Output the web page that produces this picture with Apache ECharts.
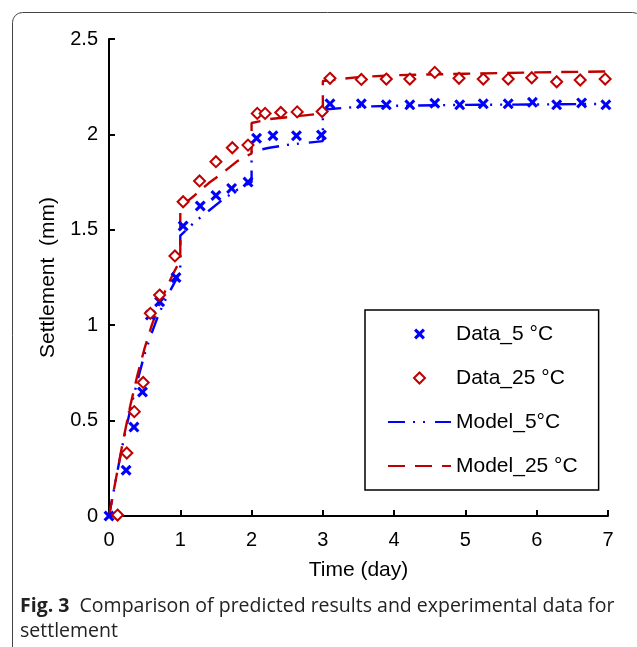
<!DOCTYPE html>
<html>
<head>
<meta charset="utf-8">
<script src="https://cdn.jsdelivr.net/npm/echarts@6/dist/echarts.min.js"></script>
<style>
html,body{margin:0;padding:0;background:#fff;}
#chart{width:637px;height:647px;}
</style>
</head>
<body>
<div id="chart"></div>
<script>
// ---- data ----
const data5Time = [0, 0.24, 0.35, 0.47, 0.58, 0.71, 0.94, 1.04, 1.28, 1.50, 1.72, 1.95, 2.07, 2.30, 2.63, 2.98, 3.10, 3.54, 3.89, 4.22, 4.57, 4.92, 5.25, 5.60, 5.94, 6.28, 6.63, 6.97];
const data5Settle = [0, 0.24, 0.466, 0.65, 1.053, 1.123, 1.25, 1.52, 1.625, 1.68, 1.717, 1.75, 1.98, 1.993, 1.993, 1.997, 2.16, 2.16, 2.155, 2.155, 2.163, 2.155, 2.16, 2.16, 2.168, 2.155, 2.165, 2.155];

const data25Time = [0.12, 0.25, 0.355, 0.48, 0.58, 0.71, 0.925, 1.04, 1.27, 1.50, 1.73, 1.95, 2.08, 2.19, 2.41, 2.64, 2.99, 3.10, 3.54, 3.89, 4.22, 4.57, 4.91, 5.25, 5.60, 5.93, 6.28, 6.61, 6.96];
const data25Settle = [0.005, 0.33, 0.547, 0.70, 1.062, 1.158, 1.363, 1.647, 1.756, 1.857, 1.93, 1.944, 2.11, 2.11, 2.115, 2.118, 2.12, 2.294, 2.288, 2.29, 2.29, 2.325, 2.294, 2.29, 2.29, 2.297, 2.276, 2.285, 2.29];

const model5Time = [0, 0.1, 0.2, 0.3, 0.4, 0.5, 0.6, 0.7, 0.8, 0.9, 1.0, 1.0, 1.2, 1.4, 1.6, 1.8, 2.0, 2.0, 2.25, 2.5, 2.75, 3.0, 3.0, 3.5, 4, 5, 6, 7];
const model5Settle = [0, 0.2, 0.39, 0.56, 0.71, 0.85, 0.96, 1.06, 1.14, 1.21, 1.28, 1.47, 1.54, 1.60, 1.66, 1.71, 1.75, 1.91, 1.93, 1.945, 1.955, 1.965, 2.13, 2.145, 2.15, 2.155, 2.157, 2.16];

const model25Time = [0, 0.1, 0.2, 0.3, 0.4, 0.5, 0.6, 0.7, 0.8, 0.9, 1.0, 1.0, 1.2, 1.4, 1.6, 1.8, 2.0, 2.0, 2.25, 2.5, 2.75, 3.0, 3.0, 3.5, 4, 5, 6, 7];
const model25Settle = [0, 0.2, 0.4, 0.58, 0.74, 0.88, 1.0, 1.1, 1.19, 1.27, 1.34, 1.62, 1.68, 1.745, 1.80, 1.86, 1.90, 2.06, 2.08, 2.09, 2.10, 2.11, 2.28, 2.30, 2.31, 2.318, 2.325, 2.33];

const seriesNames = ['Data_5 °C', 'Data_25 °C', 'Model_5°C', 'Model_25 °C'];
const xTitle = 'Time (day)';
const yTitle = 'Settlement  (mm)';
const captionBold = 'Fig. 3';
const captionLine1 = 'Comparison of predicted results and experimental data for';
const captionLine2 = 'settlement';

const pairs = (xs, ys) => xs.map((x, i) => [x, ys[i]]);

const FONT = 'Liberation Sans, Arial, sans-serif';
const BLUE = '#0000ff';
const RED = '#c00000';
const xSym = 'path://M0,2L2,0L5,3L8,0L10,2L7,5L10,8L8,10L5,7L2,10L0,8L3,5Z';
const diamondSym = 'path://M5,0L10,5L5,10L0,5Z';

const chart = echarts.init(document.getElementById('chart'), null, {renderer: 'canvas'});
chart.setOption({
  animation: false,
  backgroundColor: '#fff',
  grid: {left: 109, right: 29, top: 39, bottom: 131, containLabel: false},
  xAxis: {
    type: 'value', min: 0, max: 7, interval: 1,
    name: xTitle, nameLocation: 'middle', nameGap: 44,
    nameTextStyle: {fontFamily: FONT, fontSize: 21, color: '#000'},
    axisLine: {show: true, lineStyle: {color: '#000', width: 2}},
    axisTick: {show: true, inside: true, length: 6, lineStyle: {color: '#000', width: 2}},
    axisLabel: {fontFamily: FONT, fontSize: 20, color: '#000', margin: 14},
    splitLine: {show: false}
  },
  yAxis: {
    type: 'value', min: 0, max: 2.5, interval: 0.5,
    name: yTitle, nameLocation: 'middle', nameGap: 50,
    nameTextStyle: {fontFamily: FONT, fontSize: 21, color: '#000'},
    axisLine: {show: true, lineStyle: {color: '#000', width: 2}},
    axisTick: {show: true, inside: true, length: 6, lineStyle: {color: '#000', width: 2}},
    axisLabel: {fontFamily: FONT, fontSize: 20, color: '#000', margin: 11},
    splitLine: {show: false}
  },
  legend: {
    orient: 'vertical', left: 365, top: 310,
    padding: [13, 21, 13, 22],
    borderColor: '#000', borderWidth: 1.5, backgroundColor: '#fff',
    itemWidth: 63, itemHeight: 11, itemGap: 22, itemTextGap: 7,
    textStyle: {fontFamily: FONT, fontSize: 21, color: '#000', lineHeight: 22},
    data: [
      {name: seriesNames[0]},
      {name: seriesNames[1]},
      {name: seriesNames[2], itemStyle: {opacity: 0}},
      {name: seriesNames[3], itemStyle: {opacity: 0}}
    ]
  },
  series: [
    {
      name: seriesNames[2], type: 'line', data: pairs(model5Time, model5Settle),
      symbol: 'none', showSymbol: false, z: 2,
      lineStyle: {color: BLUE, width: 2.4, type: [17, 8, 2, 8, 2, 10]},
      itemStyle: {color: BLUE}
    },
    {
      name: seriesNames[3], type: 'line', data: pairs(model25Time, model25Settle),
      symbol: 'none', showSymbol: false, z: 2,
      lineStyle: {color: RED, width: 2.4, type: [17, 10]},
      itemStyle: {color: RED}
    },
    {
      name: seriesNames[0], type: 'scatter', data: pairs(data5Time, data5Settle),
      symbol: xSym, symbolSize: 11, z: 3,
      itemStyle: {color: BLUE, opacity: 1}
    },
    {
      name: seriesNames[1], type: 'scatter', data: pairs(data25Time, data25Settle),
      symbol: diamondSym, symbolSize: 11, z: 3,
      itemStyle: {color: '#fff', borderColor: RED, borderWidth: 2, opacity: 1}
    }
  ],
  graphic: [
    {
      type: 'rect', z: -10, silent: true,
      shape: {x: 12.5, y: 12.5, width: 630, height: 700, r: 10},
      style: {fill: 'none', stroke: '#444', lineWidth: 1}
    },
    {
      type: 'text', left: 20, top: 594, silent: true,
      style: {
        text: '{b|' + captionBold + '}  ' + captionLine1 + '\n' + captionLine2,
        fontFamily: 'Open Sans, sans-serif', fontSize: 19.5, lineHeight: 25, fill: '#222',
        rich: {b: {fontFamily: 'Open Sans, sans-serif', fontWeight: 'bold', fontSize: 19.5, lineHeight: 25, fill: '#222'}}
      }
    }
  ]
});
</script>
</body>
</html>
